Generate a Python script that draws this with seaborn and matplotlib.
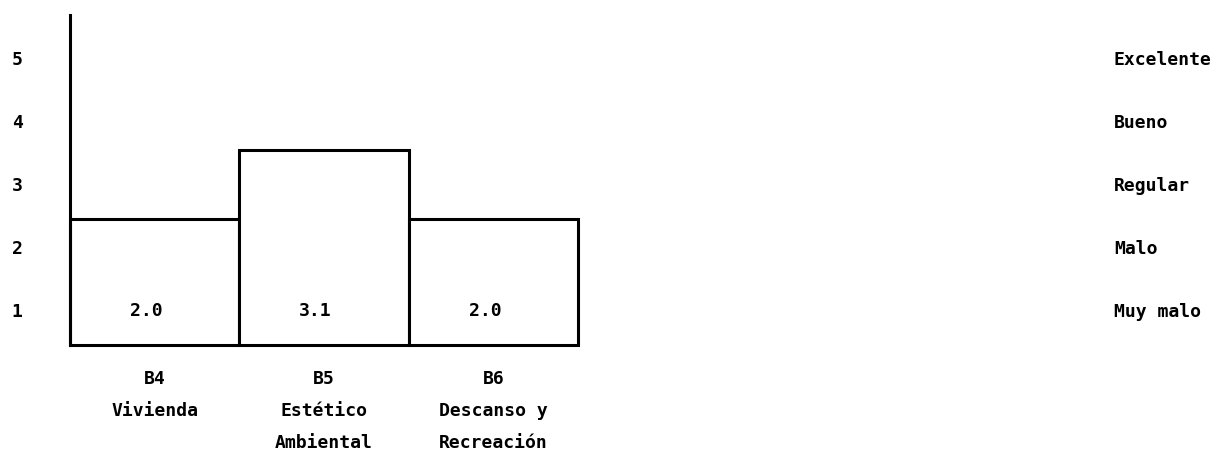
import matplotlib
matplotlib.use("Agg")
import matplotlib.pyplot as plt
import seaborn as sns
import pandas as pd
import numpy as np

# Average rating per block
codes = ["B4", "B5", "B6"]
names = ["Vivienda", "Estético\nAmbiental", "Descanso y\nRecreación"]
scores = [2.0, 3.1, 2.0]

# Rating scale
scale_values = [1, 2, 3, 4, 5]
scale_labels = ["Muy malo", "Malo", "Regular", "Bueno", "Excelente"]

sns.set_theme(style="white")
plt.rcParams["font.family"] = ["DejaVu Sans Mono"]
plt.rcParams["font.weight"] = "bold"

df = pd.DataFrame({
    "bloque": [f"{c}\n{n}" for c, n in zip(codes, names)],
    "valor": scores,
})

fig = plt.figure(figsize=(12.19, 4.51), dpi=100)
ax = fig.add_axes([0.0574, 0.235, 0.853, 0.7317])

sns.barplot(data=df, x="bloque", y="valor", ax=ax, width=1.0,
            color="white", edgecolor="black", linewidth=2.2, saturation=1)
for patch in ax.patches:
    patch.set_clip_on(False)
    patch.set_joinstyle("miter")

ax.set_xlim(-0.5, 5.64)
ax.set_ylim(0, 5.24)
ax.set_xlabel("")
ax.set_ylabel("")

for sp in ["top", "right", "bottom"]:
    ax.spines[sp].set_visible(False)
ax.spines["left"].set_linewidth(2.2)
ax.spines["left"].set_color("black")

# value printed near the foot of each bar
for i, v in enumerate(scores):
    ax.text(i - 0.05, 0.54, f"{v:.1f}", ha="center", va="center",
            fontsize=13, fontweight="bold", color="black")

# rating scale on both sides
offset = 0.45
ax.set_yticks([s - offset for s in scale_values])
ax.set_yticklabels([str(s) for s in scale_values], fontsize=13, fontweight="bold")
ax.tick_params(axis="y", length=0, pad=34, colors="black")

ax2 = ax.twinx()
ax2.set_ylim(ax.get_ylim())
ax2.set_yticks([s - offset for s in scale_values])
ax2.set_yticklabels(scale_labels, fontsize=13, fontweight="bold", ha="left")
ax2.tick_params(axis="y", length=0, pad=3, colors="black")
for sp in ax2.spines.values():
    sp.set_visible(False)

ax.tick_params(axis="x", length=0, pad=18, colors="black")
for lbl in ax.get_xticklabels():
    lbl.set_fontsize(13)
    lbl.set_fontweight("bold")
    lbl.set_linespacing(2.0)

fig.savefig("out.png", dpi=100, facecolor="white")
